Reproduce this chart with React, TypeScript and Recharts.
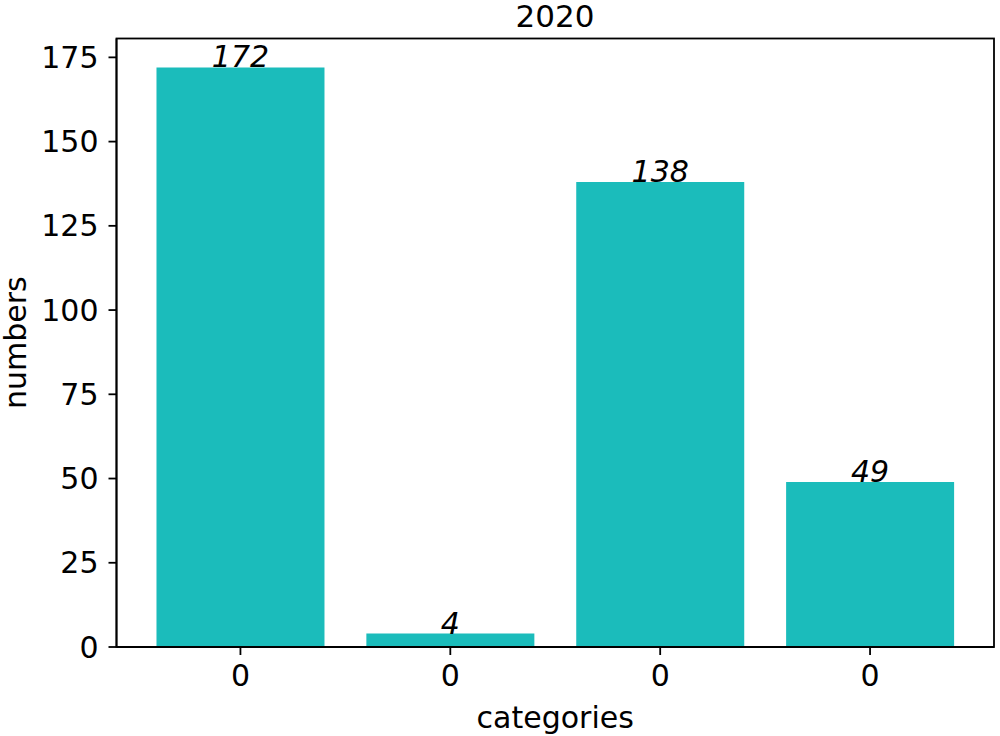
import React from "react";
import * as R from "recharts";
import { BarChart, Bar, XAxis, YAxis, LabelList } from "recharts";

const categories = ["0", "0", "0", "0"];
const values = [172, 4, 138, 49];
const yTicks = [0, 25, 50, 75, 100, 125, 150, 175];
const title = "2020";

const data = values.map((v, i) => ({ idx: i, value: v }));

const FONT = "DejaVu Sans";
const FS = 30;
const COLOR = "#1bbcbb";
const LW = 1.8;

const BarLabel = (props: any) => {
  const { x, y, width, value } = props;
  return (
    <text
      x={x + width / 2}
      y={y}
      textAnchor="middle"
      fontFamily={FONT}
      fontSize={FS}
      fontStyle="italic"
      fill="#000"
    >
      {value}
    </text>
  );
};

const Frame = () => {
  const hook: any = (R as any).usePlotArea;
  const pa = hook ? hook() : null;
  if (!pa) return null;
  return (
    <rect
      x={pa.x}
      y={pa.y}
      width={pa.width}
      height={pa.height}
      fill="none"
      stroke="#000"
      strokeWidth={LW}
    />
  );
};

export default function App() {
  return (
    <div style={{ position: "absolute", left: 0, top: 0, width: 1000, height: 736, background: "#fff" }}>
      <div
        style={{
          position: "absolute",
          left: 455,
          width: 200,
          top: 0,
          textAlign: "center",
          fontFamily: FONT,
          fontSize: 31,
          lineHeight: "32px",
          paddingTop: 0,
          color: "#000",
        }}
      >
        {title}
      </div>
      <BarChart
        width={1000}
        height={736}
        data={data}
        margin={{ top: 38.5, right: 6, left: 0, bottom: 0 }}
        barCategoryGap="10%"
      >
        <XAxis
          dataKey="idx"
          type="category"
          height={89}
          padding={{ left: 19, right: 19 }}
          tickFormatter={(v: any, i: number) => categories[i]}
          axisLine={{ stroke: "#000", strokeWidth: LW }}
          tickLine={{ stroke: "#000", strokeWidth: LW }}
          tickSize={8}
          tickMargin={10}
          tick={{ fontFamily: FONT, fontSize: FS, fill: "#000" }}
          label={{
            value: "categories",
            position: "insideBottom",
            offset: 8,
            fontFamily: FONT,
            fontSize: FS,
            fill: "#000",
          }}
        />
        <YAxis
          width={116.5}
          domain={[0, 180.6]}
          ticks={yTicks}
          allowDataOverflow
          axisLine={{ stroke: "#000", strokeWidth: LW }}
          tickLine={{ stroke: "#000", strokeWidth: LW }}
          tickSize={8}
          tickMargin={10}
          tick={{ fontFamily: FONT, fontSize: FS, fill: "#000" }}
          label={{
            value: "numbers",
            angle: -90,
            position: "insideLeft",
            offset: 0,
            dx: 15,
            fontFamily: FONT,
            fontSize: FS,
            fill: "#000",
            style: { textAnchor: "middle" },
          }}
        />
        <Bar dataKey="value" fill={COLOR} isAnimationActive={false}>
          <LabelList dataKey="value" content={<BarLabel />} />
        </Bar>
        <Frame />
      </BarChart>
    </div>
  );
}
